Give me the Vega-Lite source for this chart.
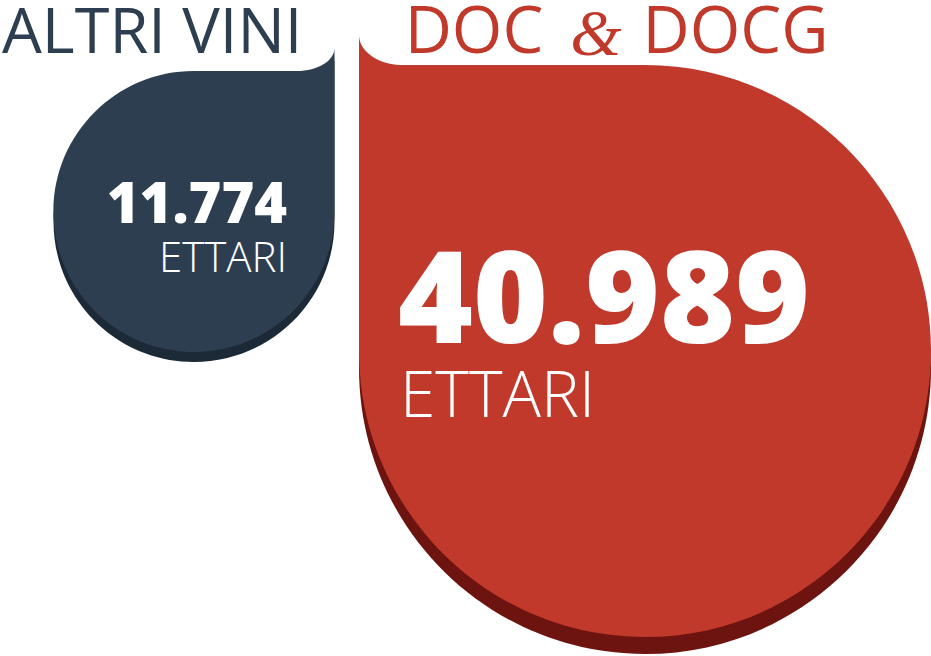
{
  "$schema": "https://vega.github.io/schema/vega-lite/v6.json",
  "width": 931,
  "height": 656,
  "autosize": "none",
  "padding": 0,
  "background": "white",
  "config": {
    "view": {"stroke": null},
    "locale": {"number": {"decimal": ",", "thousands": ".", "grouping": [3], "currency": ["", " €"]}}
  },
  "data": {
    "values": [
      {"categoria": "ALTRI VINI", "ettari": 11774},
      {"categoria": "DOC & DOCG", "ettari": 40989}
    ]
  },
  "encoding": {
    "x": {"field": "categoria", "type": "nominal", "axis": null,
          "scale": {"type": "point", "domain": ["ALTRI VINI", "DOC & DOCG"], "range": [194, 645], "padding": 0}},
    "y": {"field": "categoria", "type": "nominal", "axis": null,
          "scale": {"type": "point", "domain": ["ALTRI VINI", "DOC & DOCG"], "range": [211.5, 351], "padding": 0}}
  },
  "layer": [
    {
      "transform": [{"filter": "datum.categoria === 'ALTRI VINI'"}],
      "mark": {"type": "point", "filled": true, "opacity": 1, "strokeWidth": 0, "color": "#1c2937", "yOffset": 10,
               "shape": "M0,-1 L0.733,-1 A0.267,0.164 0 0 0 1,-1.164 L1,0 A1,1 0 0 1 0,1 A1,1 0 0 1 -1,0 A1,1 0 0 1 0,-1 Z"},
      "encoding": {"size": {"field": "ettari", "type": "quantitative", "legend": null,
                            "scale": {"type": "linear", "domain": [11774, 40989], "range": [78961, 327184], "zero": false}}}
    },
    {
      "transform": [{"filter": "datum.categoria === 'DOC & DOCG'"}],
      "mark": {"type": "point", "filled": true, "opacity": 1, "strokeWidth": 0, "color": "#6e1410", "yOffset": 17,
               "shape": "M-1,-1.105 L-1,0 A1,1 0 0 0 0,1 A1,1 0 0 0 1,0 A1,1 0 0 0 0,-1 L-0.846,-1 A0.154,0.105 0 0 1 -1,-1.105 Z"},
      "encoding": {"size": {"field": "ettari", "type": "quantitative", "legend": null,
                            "scale": {"type": "linear", "domain": [11774, 40989], "range": [78961, 327184], "zero": false}}}
    },
    {
      "transform": [{"filter": "datum.categoria === 'ALTRI VINI'"}],
      "mark": {"type": "point", "filled": true, "opacity": 1, "strokeWidth": 0, "color": "#2c3e50",
               "shape": "M0,-1 L0.733,-1 A0.267,0.164 0 0 0 1,-1.164 L1,0 A1,1 0 0 1 0,1 A1,1 0 0 1 -1,0 A1,1 0 0 1 0,-1 Z"},
      "encoding": {"size": {"field": "ettari", "type": "quantitative", "legend": null,
                            "scale": {"type": "linear", "domain": [11774, 40989], "range": [78961, 327184], "zero": false}}}
    },
    {
      "transform": [{"filter": "datum.categoria === 'DOC & DOCG'"}],
      "mark": {"type": "point", "filled": true, "opacity": 1, "strokeWidth": 0, "color": "#c0392b",
               "shape": "M-1,-1.105 L-1,0 A1,1 0 0 0 0,1 A1,1 0 0 0 1,0 A1,1 0 0 0 0,-1 L-0.846,-1 A0.154,0.105 0 0 1 -1,-1.105 Z"},
      "encoding": {"size": {"field": "ettari", "type": "quantitative", "legend": null,
                            "scale": {"type": "linear", "domain": [11774, 40989], "range": [78961, 327184], "zero": false}}}
    },
    {
      "transform": [{"filter": "datum.categoria === 'ALTRI VINI'"}],
      "mark": {"type": "text", "font": "Open Sans", "fontSize": 63, "fontWeight": 400, "color": "#2c3e50",
               "align": "left", "baseline": "alphabetic", "dx": -192, "dy": -158.5},
      "encoding": {"text": {"field": "categoria", "type": "nominal"}}
    },
    {
      "transform": [{"filter": "datum.categoria === 'DOC & DOCG'"}],
      "mark": {"type": "text", "font": "Open Sans", "fontSize": 65, "fontWeight": 400, "color": "#c0392b",
               "align": "center", "baseline": "alphabetic", "dx": -171, "dy": -298, "text": "DOC"}
    },
    {
      "transform": [{"filter": "datum.categoria === 'DOC & DOCG'"}],
      "mark": {"type": "text", "font": "Liberation Serif", "fontStyle": "italic", "fontSize": 66, "fontWeight": 400, "color": "#c0392b",
               "align": "center", "baseline": "alphabetic", "dx": -49, "dy": -296, "text": "&"}
    },
    {
      "transform": [{"filter": "datum.categoria === 'DOC & DOCG'"}],
      "mark": {"type": "text", "font": "Open Sans", "fontSize": 65, "fontWeight": 400, "color": "#c0392b",
               "align": "center", "baseline": "alphabetic", "dx": 90.5, "dy": -298, "text": "DOCG"}
    },
    {
      "transform": [{"filter": "datum.categoria === 'ALTRI VINI'"}],
      "mark": {"type": "text", "font": "Open Sans", "fontSize": 56, "fontWeight": 800, "color": "white",
               "align": "right", "baseline": "alphabetic", "dx": 93, "dy": 11.5},
      "encoding": {"text": {"field": "ettari", "type": "quantitative", "format": ",d"}}
    },
    {
      "transform": [{"filter": "datum.categoria === 'ALTRI VINI'"}],
      "mark": {"type": "text", "font": "Open Sans", "fontSize": 42, "fontWeight": 300, "color": "white",
               "align": "right", "baseline": "alphabetic", "dx": 93, "dy": 60.5, "text": "ETTARI"}
    },
    {
      "transform": [{"filter": "datum.categoria === 'DOC & DOCG'"}],
      "mark": {"type": "text", "font": "Open Sans", "fontSize": 128, "fontWeight": 800, "color": "white",
               "align": "left", "baseline": "alphabetic", "dx": -247, "dy": -8},
      "encoding": {"text": {"field": "ettari", "type": "quantitative", "format": ",d"}}
    },
    {
      "transform": [{"filter": "datum.categoria === 'DOC & DOCG'"}],
      "mark": {"type": "text", "font": "Open Sans", "fontSize": 64, "fontWeight": 300, "color": "white",
               "align": "left", "baseline": "alphabetic", "dx": -245, "dy": 66, "text": "ETTARI"}
    }
  ]
}
